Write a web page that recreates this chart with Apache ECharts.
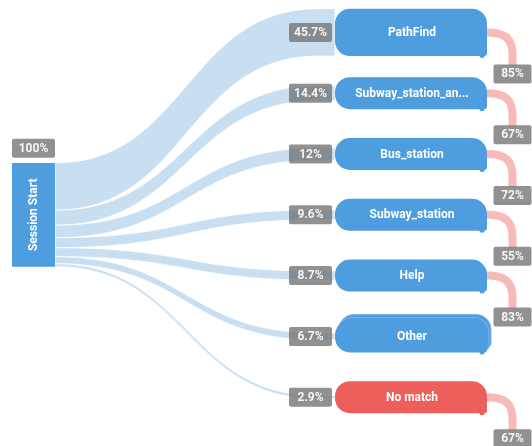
<!DOCTYPE html>
<html>
<head>
<meta charset="utf-8">
<title>Session flow</title>
<script src="https://cdn.jsdelivr.net/npm/echarts@6/dist/echarts.min.js"></script>
<style>
    html, body { margin: 0; padding: 0; background: #fff; }
    #chart { width: 532px; height: 446px; }
</style>
</head>
<body>
<div id="chart"></div>
<script>
// Chart data
const steps = ['PathFind', 'Subway_station_an...', 'Bus_station', 'Subway_station', 'Help', 'Other', 'No match'];
const shares = [45.7, 14.4, 12, 9.6, 8.7, 6.7, 2.9];
const retention = [85, 67, 72, 55, 83, null, 67];
const startName = 'Session Start';
const startShare = 100;

// Styles and layout
const FONT = 'Roboto, "Noto Sans", sans-serif';
const BLUE = '#4e9ddf';
const RED = '#ed5f5a';
const BAND = '#c8dff2';
const PINK = '#f6bab8';
const GRAY = 'rgba(118, 118, 118, 0.8)';
const PX_PER_PCT = 1.037;
const START_X = [12, 55];
const NODE_X = [335, 487];
const CURVE_END_X = 318;
const LABEL_X = 310.5;
const RET_X = 512.5;
const MIN_NODE_H = 32;

const mid = (steps.length - 1) / 2;

// running total of shares, so each flow starts below the previous one
const flowData = [];
let acc = 0;
shares.forEach((s, i) => {
    flowData.push([0, i, s, acc]);
    acc += s;
});

function pctBox(cx, cy, w, text) {
    return {
        type: 'group',
        children: [
            { type: 'rect', shape: { x: cx - w / 2, y: cy - 9.5, width: w, height: 19, r: 2 }, style: { fill: GRAY } },
            { type: 'text', style: { x: cx, y: cy + 0.5, text: text, fill: '#f5f5f5', font: 'bold 12px ' + FONT, align: 'center', verticalAlign: 'middle' } }
        ]
    };
}

function renderFlow(params, api) {
    const i = api.value(1);
    const w = api.value(2) * PX_PER_PCT;
    const c = api.coord([START_X[1], mid]);
    const top = c[1] - startShare * PX_PER_PCT / 2;
    const y0 = top + api.value(3) * PX_PER_PCT;
    const bend = api.coord([CURVE_END_X, i]);
    const x2 = api.coord([NODE_X[0], i])[0];
    const x0 = c[0], x1 = bend[0], yc = bend[1];
    const xm = (x0 + x1) / 2;
    const d = 'M' + x0 + ' ' + y0 +
        ' C' + xm + ' ' + y0 + ' ' + xm + ' ' + (yc - w / 2) + ' ' + x1 + ' ' + (yc - w / 2) +
        ' L' + x2 + ' ' + (yc - w / 2) +
        ' L' + x2 + ' ' + (yc + w / 2) +
        ' L' + x1 + ' ' + (yc + w / 2) +
        ' C' + xm + ' ' + (yc + w / 2) + ' ' + xm + ' ' + (y0 + w) + ' ' + x0 + ' ' + (y0 + w) + ' Z';
    return {
        type: 'path',
        shape: { pathData: d },
        style: { fill: BAND, stroke: '#fff', lineWidth: 0.8 }
    };
}

function renderStart(params, api) {
    const c = api.coord([(START_X[0] + START_X[1]) / 2, mid]);
    const h = api.value(2) * PX_PER_PCT;
    const top = c[1] - h / 2;
    return {
        type: 'group',
        children: [
            { type: 'rect', shape: { x: START_X[0], y: top, width: START_X[1] - START_X[0], height: h }, style: { fill: BLUE } },
            {
                type: 'text', x: c[0], y: c[1], rotation: Math.PI / 2,
                style: { text: startName, fill: '#fff', font: 'bold 12px ' + FONT, align: 'center', verticalAlign: 'middle' }
            },
            pctBox(c[0], top - 14.8, START_X[1] - START_X[0], api.value(2) + '%')
        ]
    };
}

function renderNode(params, api) {
    const i = api.value(1);
    const name = steps[i];
    const h = Math.max(MIN_NODE_H, api.value(2) * PX_PER_PCT);
    const p0 = api.coord([NODE_X[0], i]);
    const x1 = api.coord([NODE_X[1], i])[0];
    const y0 = p0[1] - h / 2;
    const w = x1 - p0[0];
    const color = name === 'No match' ? RED : BLUE;
    const children = [];
    if (name === 'Other') {
        // stacked look
        [[4, -6], [2, -3]].forEach(o => {
            children.push({
                type: 'rect',
                shape: { x: p0[0] + o[0], y: y0 + o[1], width: w, height: h, r: [15, 15, 3, 15] },
                style: { fill: color, stroke: '#78b5ea', lineWidth: 1 }
            });
        });
    }
    children.push({
        type: 'rect',
        shape: { x: p0[0], y: y0, width: w, height: h, r: [15, 15, 3, 15] },
        style: { fill: color }
    });
    children.push({ type: 'circle', shape: { cx: x1 - 5, cy: y0 + h - 0.5, r: 2.5 }, style: { fill: color } });
    children.push({
        type: 'text',
        style: { x: p0[0] + w / 2 + 1, y: p0[1] + 0.5, text: name, fill: '#fff', font: 'bold 12px ' + FONT, align: 'center', verticalAlign: 'middle' }
    });
    return { type: 'group', children: children };
}

function renderShare(params, api) {
    const p = api.coord([LABEL_X, api.value(1)]);
    return pctBox(p[0], p[1], 43, api.value(2) + '%');
}

function renderRetention(params, api) {
    const r = api.value(2);
    if (r == null || isNaN(r)) return null;
    const p = api.coord([NODE_X[1], api.value(1)]);
    const xr = api.coord([RET_X, api.value(1)])[0];
    const x0 = p[0], yc = p[1];
    const d = 'M' + x0 + ' ' + yc +
        ' C' + (x0 + 18) + ' ' + yc + ' ' + xr + ' ' + (yc + 6) + ' ' + xr + ' ' + (yc + 22) +
        ' L' + xr + ' ' + (yc + 33);
    return {
        type: 'group',
        children: [
            { type: 'path', shape: { pathData: d }, style: { fill: null, stroke: PINK, lineWidth: 8 } },
            pctBox(xr, yc + 41.5, 38, r + '%')
        ]
    };
}

const chart = echarts.init(document.getElementById('chart'));

const option = {
    backgroundColor: '#fff',
    animation: false,
    grid: { left: 0, right: 0, top: 2, height: 425.6 },
    xAxis: { type: 'value', min: 0, max: 532, show: false },
    yAxis: { type: 'category', data: steps, inverse: true, show: false },
    series: [
        { type: 'custom', renderItem: renderFlow, data: flowData, encode: { x: 0, y: 1 } },
        { type: 'custom', renderItem: renderStart, data: [[0, mid, startShare]], encode: { x: 0, y: 1 } },
        { type: 'custom', renderItem: renderNode, data: shares.map((s, i) => [0, i, s]), encode: { x: 0, y: 1 } },
        { type: 'custom', renderItem: renderShare, data: shares.map((s, i) => [0, i, s]), encode: { x: 0, y: 1 } },
        { type: 'custom', renderItem: renderRetention, data: retention.map((r, i) => [0, i, r == null ? '-' : r]), encode: { x: 0, y: 1 } }
    ]
};

chart.setOption(option);
</script>
</body>
</html>
